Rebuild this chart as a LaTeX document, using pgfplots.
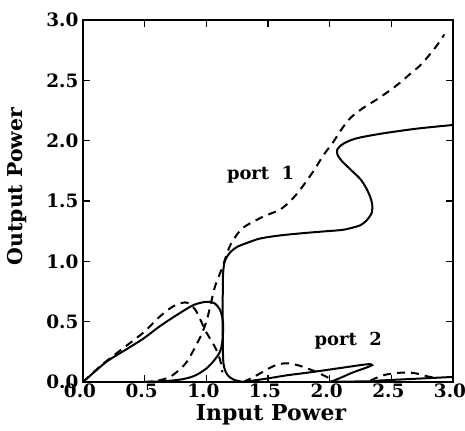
\documentclass[border=0pt]{standalone}
\usepackage{fontspec}
\setmainfont{DejaVu Serif}
\usepackage{pgfplots}
\pgfplotsset{compat=1.18}
\begin{document}
\begin{tikzpicture}
\begin{axis}[name=ax,
  scale only axis, width=370bp, height=362bp,
  xmin=0, xmax=3, ymin=0, ymax=3,
  xtick={0,0.5,...,3.0}, ytick={0,0.5,...,3.0},
  xticklabel style={/pgf/number format/fixed,/pgf/number format/fixed zerofill,/pgf/number format/precision=1},
  yticklabel style={/pgf/number format/fixed,/pgf/number format/fixed zerofill,/pgf/number format/precision=1},
  /pgf/number format/assume math mode=true,
  tick label style={font=\fontsize{18.5}{18.5}\selectfont\bfseries},
  label style={font=\fontsize{22}{22}\selectfont\bfseries},
  axis line style={line width=1.8bp},
  major tick length=7bp,
  every tick/.style={black, line width=1.4bp},
  xtick pos=both, ytick pos=both,
  x tick label style={yshift=2bp, xshift=-3bp},
  y tick label style={xshift=-1bp},
  xlabel={Input Power}, ylabel={Output Power},
  xlabel style={at={(rel axis cs:0.5,0)}, anchor=north, yshift=-19bp, xshift=3bp},
  ylabel style={at={(rel axis cs:0,0.54)}, anchor=center, yshift=66bp, font=\fontsize{20.5}{20.5}\selectfont\bfseries},
  clip=true,
]
% port 1 solid, lower loop
\addplot[black, line width=2bp, smooth, tension=0.5] coordinates {
(0,0) (0.1,0.09) (0.2,0.175) (0.35,0.27) (0.49,0.36) (0.62,0.46) (0.76,0.555) (0.89,0.635) (0.97,0.66) (1.02,0.665) (1.07,0.65) (1.11,0.6) (1.13,0.53) (1.137,0.46) (1.132,0.36) (1.12,0.28) (1.1,0.23) (1.06,0.175) (1.01,0.12) (0.94,0.07) (0.88,0.042) (0.8,0.022) (0.7,0.01) (0.6,0.004) (0.5,0)
};
% port 1 solid, upper branch
\addplot[black, line width=2bp, smooth, tension=0.5] coordinates {
(1.3,0) (1.22,0.02) (1.17,0.06) (1.145,0.12) (1.136,0.2) (1.133,0.4) (1.133,0.7) (1.136,0.9) (1.15,1.0) (1.19,1.07) (1.25,1.12) (1.35,1.16) (1.44,1.19) (1.6,1.215) (1.8,1.235) (1.98,1.25) (2.1,1.26) (2.17,1.275) (2.25,1.3) (2.3,1.34) (2.34,1.4) (2.345,1.47) (2.33,1.53) (2.3,1.6) (2.25,1.68) (2.17,1.76) (2.1,1.83) (2.065,1.88) (2.06,1.92) (2.08,1.95) (2.12,1.98) (2.22,2.02) (2.43,2.06) (2.71,2.1) (3.0,2.13)
};
% port 1 dashed, lower loop
\addplot[black, line width=2bp, dash pattern=on 8bp off 6bp, smooth, tension=0.5] coordinates {
(0,0) (0.15,0.14) (0.3,0.26) (0.49,0.41) (0.62,0.54) (0.72,0.62) (0.8,0.655) (0.85,0.655) (0.91,0.6) (0.95,0.52) (0.99,0.43) (1.03,0.36) (1.07,0.29) (1.1,0.22) (1.12,0.15) (1.13,0.08)
};
% port 1 dashed, upper branch
\addplot[black, line width=2bp, dash pattern=on 8bp off 6bp, smooth, tension=0.5] coordinates {
(0.5,0) (0.6,0.01) (0.7,0.04) (0.78,0.1) (0.85,0.18) (0.95,0.37) (1.0,0.5) (1.03,0.62) (1.07,0.79) (1.13,0.95) (1.18,1.1) (1.22,1.18) (1.3,1.28) (1.46,1.37) (1.6,1.43) (1.7,1.52) (1.78,1.62) (1.87,1.75) (1.95,1.88) (2.03,1.99) (2.1,2.1) (2.17,2.19) (2.27,2.27) (2.38,2.34) (2.48,2.41) (2.57,2.48) (2.66,2.56) (2.73,2.62) (2.8,2.7) (2.87,2.79) (2.93,2.88)
};
% port 2 solid
\addplot[black, line width=2bp, smooth, tension=0.5] coordinates {
(1.3,0) (1.5,0.03) (1.65,0.055) (1.84,0.08) (2.08,0.115) (2.25,0.14) (2.32,0.148) (2.345,0.14) (2.3,0.12) (2.19,0.08) (2.1,0.04) (2.03,0.01) (2.0,0)
};
\addplot[black, line width=2bp] coordinates {
(2.0,0.003) (2.35,0.005) (2.4,0.012) (2.6,0.022) (2.8,0.032) (3.0,0.042)
};
% port 2 dashed
\addplot[black, line width=2bp, dash pattern=on 8bp off 6bp, smooth, tension=0.5] coordinates {
(1.3,0) (1.38,0.04) (1.46,0.085) (1.53,0.125) (1.6,0.15) (1.66,0.155) (1.72,0.145) (1.8,0.12) (1.9,0.08) (1.98,0.04) (2.05,0.0)
};
\addplot[black, line width=2bp, dash pattern=on 8bp off 6bp, smooth, tension=0.5] coordinates {
(2.33,0.01) (2.38,0.035) (2.45,0.06) (2.55,0.075) (2.65,0.078) (2.73,0.065) (2.8,0.045) (2.86,0.035)
};
\node[font=\fontsize{18}{18}\selectfont\bfseries, anchor=center] at (axis cs:1.44,1.72) {port\ \ 1};
\node[font=\fontsize{18}{18}\selectfont\bfseries, anchor=center] at (axis cs:2.15,0.34) {port\ \ 2};
\end{axis}
\pgfresetboundingbox
\path[use as bounding box] ([shift={(-83bp,-49bp)}]ax.south west) rectangle ([shift={(12bp,20bp)}]ax.north east);
\end{tikzpicture}
\end{document}
